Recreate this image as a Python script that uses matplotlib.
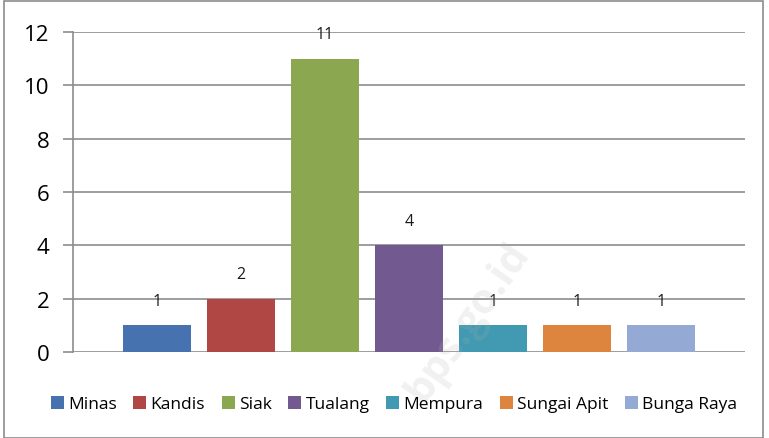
import matplotlib.pyplot as plt
from matplotlib.patches import Rectangle

# data
kecamatan = ['Minas', 'Kandis', 'Siak', 'Tualang', 'Mempura', 'Sungai Apit', 'Bunga Raya']
jumlah = [1, 2, 11, 4, 1, 1, 1]
warna = ['#4673B0', '#B14744', '#8BA74F', '#725A90', '#419AB2', '#DD843F', '#94A9D3']
y_ticks = [0, 2, 4, 6, 8, 10, 12]

plt.rcParams['font.family'] = ['Open Sans', 'DejaVu Sans']

fig = plt.figure(figsize=(7.69, 4.39), dpi=100)
W, H = 769, 439
ax = fig.add_axes([73 / W, 1 - 353 / H, (745 - 73) / W, (353 - 33) / H])

# outer chart border
fig.patches.append(Rectangle((4 / W, 0), (763 - 4) / W, 1 - 2 / H, transform=fig.transFigure,
                             fill=False, edgecolor='#8c8c8c', linewidth=1.2))

for i, (name, val, c) in enumerate(zip(kecamatan, jumlah, warna)):
    ax.bar(i, val, width=0.81, color=c, label=name, zorder=3)
    ax.annotate(str(val), (i, val), xytext=(0, 12), textcoords='offset points',
                ha='center', va='bottom', fontsize=11.5, color='#1a1a1a')

ax.set_xlim(-1, 7)
ax.set_ylim(0, 12)
ax.set_yticks(y_ticks)
ax.set_xticks([])
ax.yaxis.grid(True, color='#8c8c8c', linewidth=1.2, zorder=0)
ax.tick_params(axis='y', length=7, width=1.2, color='#8c8c8c', labelsize=16, pad=10)
for s in ['top', 'right', 'bottom']:
    ax.spines[s].set_visible(False)
ax.spines['left'].set_color('#8c8c8c')
ax.spines['left'].set_linewidth(1.2)

# watermark
fig.text(468 / W, 1 - 322 / H, 'bps.go.id', rotation=55, fontsize=30, fontweight='bold',
         color='#b0b0b0', alpha=0.18, ha='center', va='center')

fig.legend(loc='center', bbox_to_anchor=(394 / W, 1 - 405 / H), ncol=7, frameon=False,
           fontsize=12.5, handlelength=0.75, handleheight=0.75, handletextpad=0.25,
           columnspacing=0.95, borderaxespad=0)

fig.savefig('out.png', dpi=100)
